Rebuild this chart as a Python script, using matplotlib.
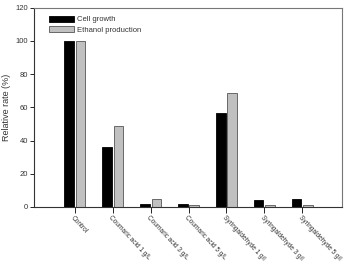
import matplotlib
matplotlib.use("Agg")
import matplotlib.pyplot as plt
import numpy as np

categories = ["Control", "Coumaric acid 1 g/L", "Coumaric acid 3 g/L", "Coumaric acid 5 g/L",
              "Syringaldehyde 1 g/l", "Syringaldehyde 3 g/l", "Syringaldehyde 5 g/l"]
cell_growth = [100, 36, 2, 2, 56.5, 4, 4.5]
ethanol = [100, 48.5, 5, 1, 68.8, 1, 1]
yticks = [0, 20, 40, 60, 80, 100, 120]

plt.rcParams['font.family'] = ['Liberation Sans', 'DejaVu Sans']
fig = plt.figure(figsize=(3.51, 2.61), dpi=100)
ax = fig.add_axes([0.097, 0.207, 0.877, 0.764])

x = np.arange(len(categories))
w = 0.26
off = 0.155
ax.bar(x - off, cell_growth, w, color='black', edgecolor='black', linewidth=0.6, label='Cell growth')
ax.bar(x + off, ethanol, w, color='#c0c0c0', edgecolor='#555555', linewidth=0.6, label='Ethanol production')

ax.set_xlim(-1.07, 7.04)
ax.set_ylim(0, 120)
ax.set_yticks(yticks)
ax.set_xticks(x)
ax.set_xticklabels(categories, rotation=-47, ha='left', va='top', rotation_mode='anchor',
                   fontsize=4.7, color='#333333')
ax.tick_params(axis='y', labelsize=5.5, labelcolor='#333333', length=3, width=0.6, pad=1.5)
ax.tick_params(axis='x', length=4, width=0.6, pad=1.5)
ax.set_ylabel('Relative rate (%)', fontsize=6.5, color='#333333', labelpad=3)
for s in ['left', 'bottom']:
    ax.spines[s].set_linewidth(0.8)
    ax.spines[s].set_color('#333333')
for s in ['top', 'right']:
    ax.spines[s].set_linewidth(0.8)
    ax.spines[s].set_color('#777777')

leg = ax.legend(loc='upper left', bbox_to_anchor=(0.03, 0.99), frameon=False, fontsize=5.5,
                handlelength=3.2, handleheight=0.9, handletextpad=0.4, labelspacing=0.35, borderpad=0.3)
for t in leg.get_texts():
    t.set_color('#333333')

fig.savefig('out.png', dpi=100)
